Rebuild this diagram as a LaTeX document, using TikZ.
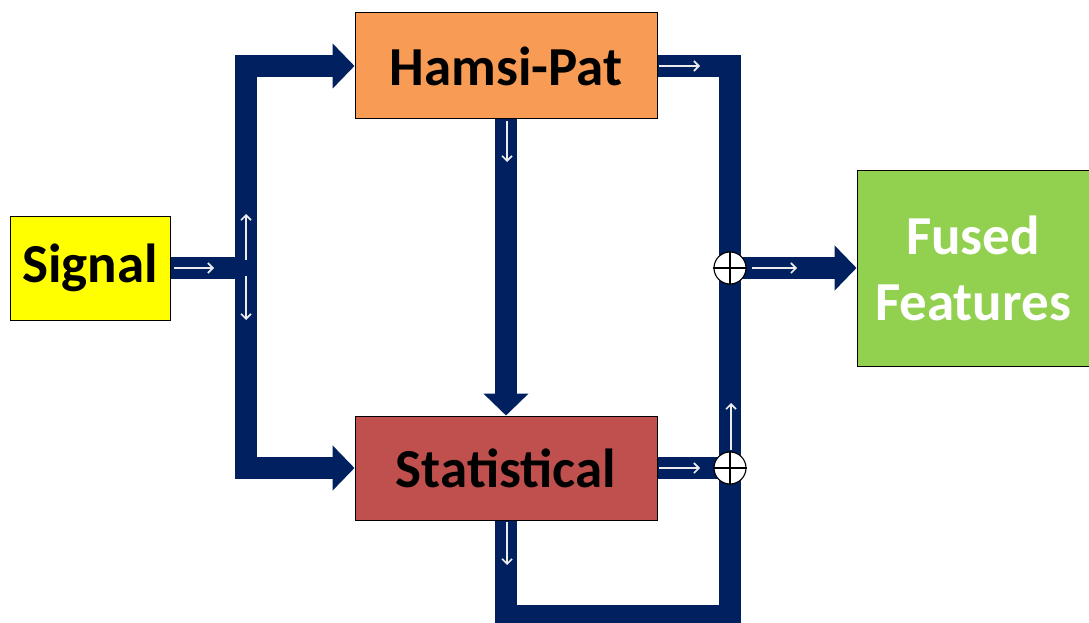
\documentclass[tikz,border=0pt]{standalone}
\usepackage{fontspec}
\setmainfont{Carlito}
\usetikzlibrary{arrows.meta}
\definecolor{barblue}{HTML}{002060}
\definecolor{sigyellow}{HTML}{FFFF00}
\definecolor{hamorange}{HTML}{F79B55}
\definecolor{statred}{HTML}{C0504D}
\definecolor{fusegreen}{HTML}{92D050}
\begin{document}
\begin{tikzpicture}[x=1pt,y=-1pt,
  box/.style={draw=black, line width=1, inner sep=0pt, align=center,
    font=\fontsize{55}{66}\selectfont\bfseries},
  bar/.style={draw=barblue, line width=22, line join=miter},
  bigtip/.style={-{Triangle[length=22pt,width=44pt]}},
  flowmark/.style={draw=white!85!gray, line width=1.6, -{Straight Barb[length=5pt,width=10pt]}},
  junction/.style={circle, draw=black, fill=white, line width=1.1, minimum size=32pt, inner sep=0pt}
]
\useasboundingbox (0,0) rectangle (1089,623);

\node[box, fill=sigyellow, minimum width=160, minimum height=104] (sig) at (90,268) {Signal};
\node[box, fill=hamorange, minimum width=302, minimum height=106] (ham) at (506,66) {Hamsi-Pat};
\node[box, fill=statred, minimum width=302, minimum height=104] (stat) at (506,468) {Statistical};
\node[box, fill=fusegreen, text=white, minimum width=232, minimum height=196] (fuse) at (973,268) {Fused\\Features};

\coordinate (jl) at (246,268);
\coordinate (j1) at (730,268);
\coordinate (j2) at (730,468);
\coordinate (b1) at (506,616);
\coordinate (b2) at (730,616);

% bars
\draw[bar] (sig.east) -- (jl);
\draw[bar, bigtip] (jl) |- (ham.west);
\draw[bar, bigtip] (jl) |- (stat.west);
\draw[bar, bigtip] (ham.south) -- (stat.north);
\draw[bar] (ham.east) -| (j1);
\draw[bar] (stat.south) -- (b1) -- (b2) -- (j2);
\draw[bar] (j2) -- (j1);
\draw[bar] (stat.east) -- (j2);
\draw[bar, bigtip] (j1) -- (fuse.west);

% flow marks
\draw[flowmark] (174,268) -- (214,268);
\draw[flowmark] (246,260) -- (246,214);
\draw[flowmark] (246,276) -- (246,320);
\draw[flowmark] (659,66) -- (700,66);
\draw[flowmark] (507,121) -- (507,162);
\draw[flowmark] (752,268) -- (797,268);
\draw[flowmark] (659,468) -- (700,468);
\draw[flowmark] (731,450) -- (731,403);
\draw[flowmark] (507,522) -- (507,565);

% junction circles
\node[junction] (c1) at (j1) {};
\node[junction] (c2) at (j2) {};
\draw[line width=1.1] (c1.north) -- (c1.south) (c1.west) -- (c1.east);
\draw[line width=1.1] (c2.north) -- (c2.south) (c2.west) -- (c2.east);
\end{tikzpicture}
\end{document}
